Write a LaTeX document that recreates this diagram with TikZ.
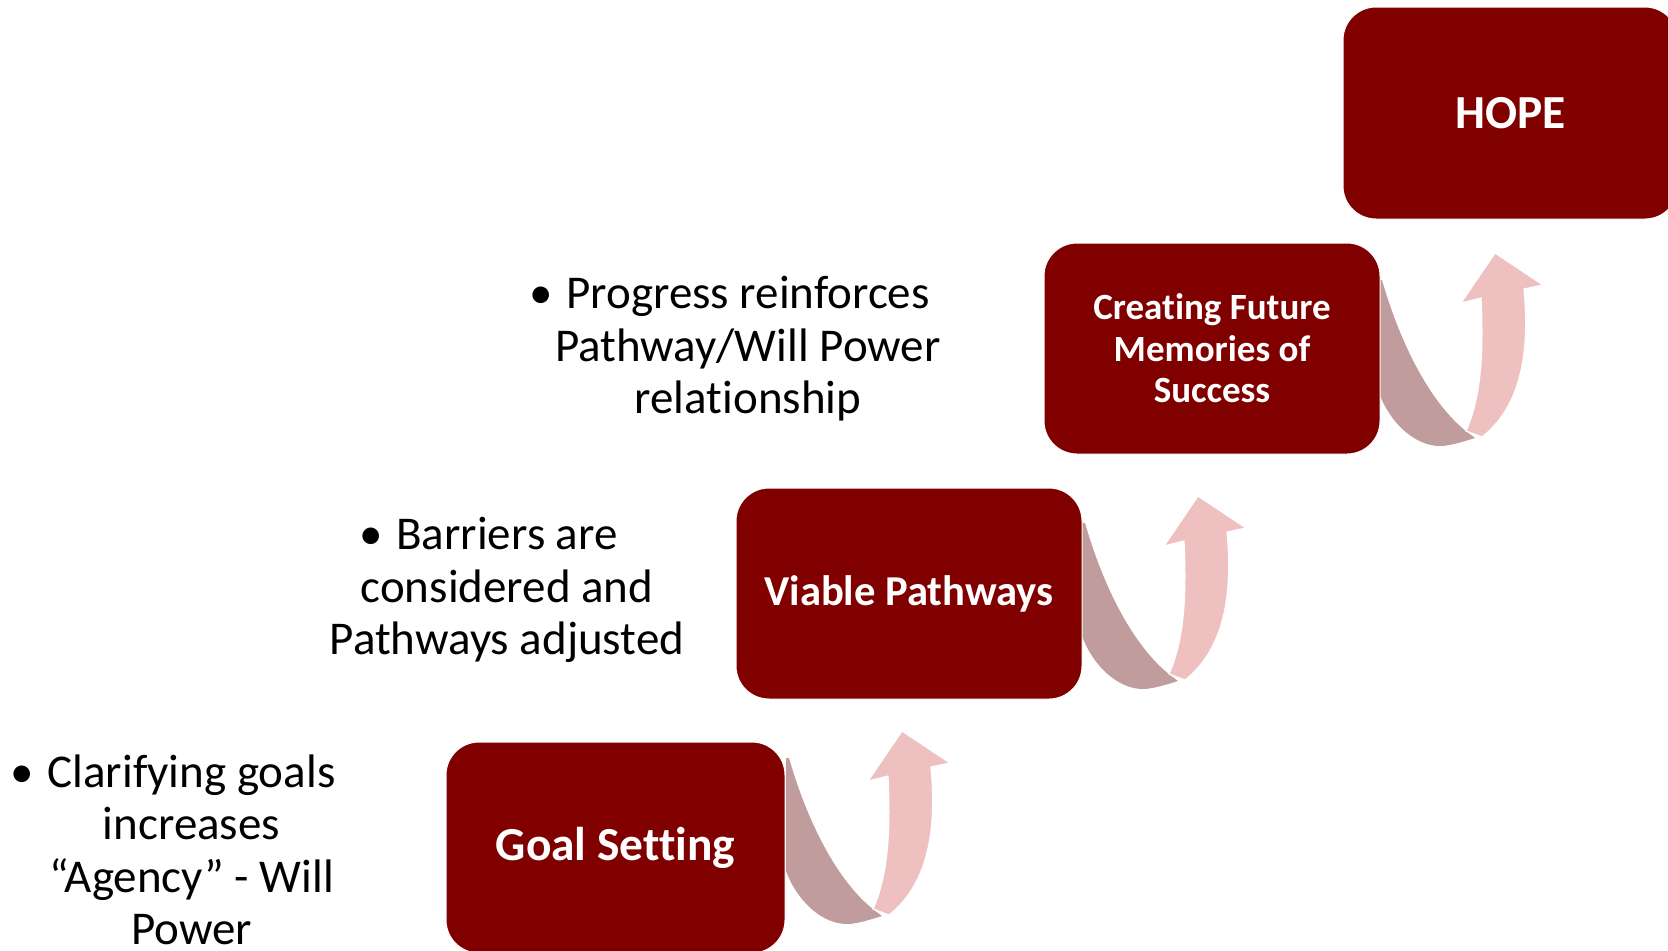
\documentclass[tikz,border=0pt]{standalone}
\usepackage{fontspec}
\setmainfont{Carlito}[Ligatures=CommonOff]
\definecolor{boxred}{RGB}{128,0,0}
\definecolor{ribbon}{RGB}{192,156,156}
\definecolor{arrowpink}{RGB}{239,192,192}
\begin{document}
\begin{tikzpicture}[x=0.5pt,y=-0.5pt,
  stepbox/.style={rectangle, fill=boxred, draw=white, line width=0.5pt, rounded corners=16.5pt,
    text=white, align=center, inner sep=0pt},
  bigtext/.style={font=\bfseries\fontsize{23.7}{26}\selectfont},
  midtext/.style={font=\bfseries\fontsize{21.3}{24}\selectfont},
  smalltext/.style={font=\bfseries\fontsize{18.5}{20.75}\selectfont},
  bullettext/.style={align=center, font=\fontsize{23.5}{26.2}\selectfont, inner sep=0pt, anchor=base},
  uparrow/.pic={
    \fill[ribbon] (-116,27) -- (-116,140) .. controls (-105,170) and (-80,193) .. (-55,193)
      .. controls (-45,193) and (-30,188) .. (-20,185) -- (-28,179)
      .. controls (-65,150) and (-95,90) .. (-113,27) -- cycle;
    \filldraw[fill=arrowpink, draw=white, line width=0.6pt] (0,0) -- (48,32) -- (29,36)
      .. controls (34,90) and (30,150) .. (-13,184) -- (-29,178)
      .. controls (-12,140) and (-12,90) .. (-14,45) -- (-34,50) -- cycle;
  }]
\useasboundingbox (0,0) rectangle (1668,950);

% arrows (drawn first, behind boxes)
\pic at (902,731) {uparrow};
\pic at (1198,496) {uparrow};
\pic at (1495,253) {uparrow};

% step boxes
\node[stepbox, bigtext, minimum width=169.5pt, minimum height=105.5pt] (goal) at (615.5,847.5) {\raisebox{-1.5pt}{Goal Setting}};
\node[stepbox, midtext, minimum width=173pt, minimum height=105.5pt] (viable) at (909,593.5) {\raisebox{-1pt}{Viable Pathways}};
\node[stepbox, smalltext, minimum width=168pt, minimum height=105.5pt] (future) at (1212,348.5) {Creating Future\\Memories of\\Success};
\node[stepbox, bigtext, minimum width=167.5pt, minimum height=106pt] (hope) at (1510.5,113) {HOPE};

% bullet texts (anchored at the baseline of the last line)
\node[bullettext] (b1) at (191.5,944.5) {\llap{\textbullet\hspace{0.29em}}Clarifying goals\\increases\\“Agency” - Will\\Power};
\node[bullettext] (b2) at (507,654.5) {\llap{\textbullet\hspace{0.29em}}Barriers are\\considered and\\Pathways adjusted};
\node[bullettext] (b3) at (748,413.5) {\llap{\textbullet\hspace{0.29em}}Progress reinforces\\Pathway/Will Power\\relationship};
\end{tikzpicture}
\end{document}
